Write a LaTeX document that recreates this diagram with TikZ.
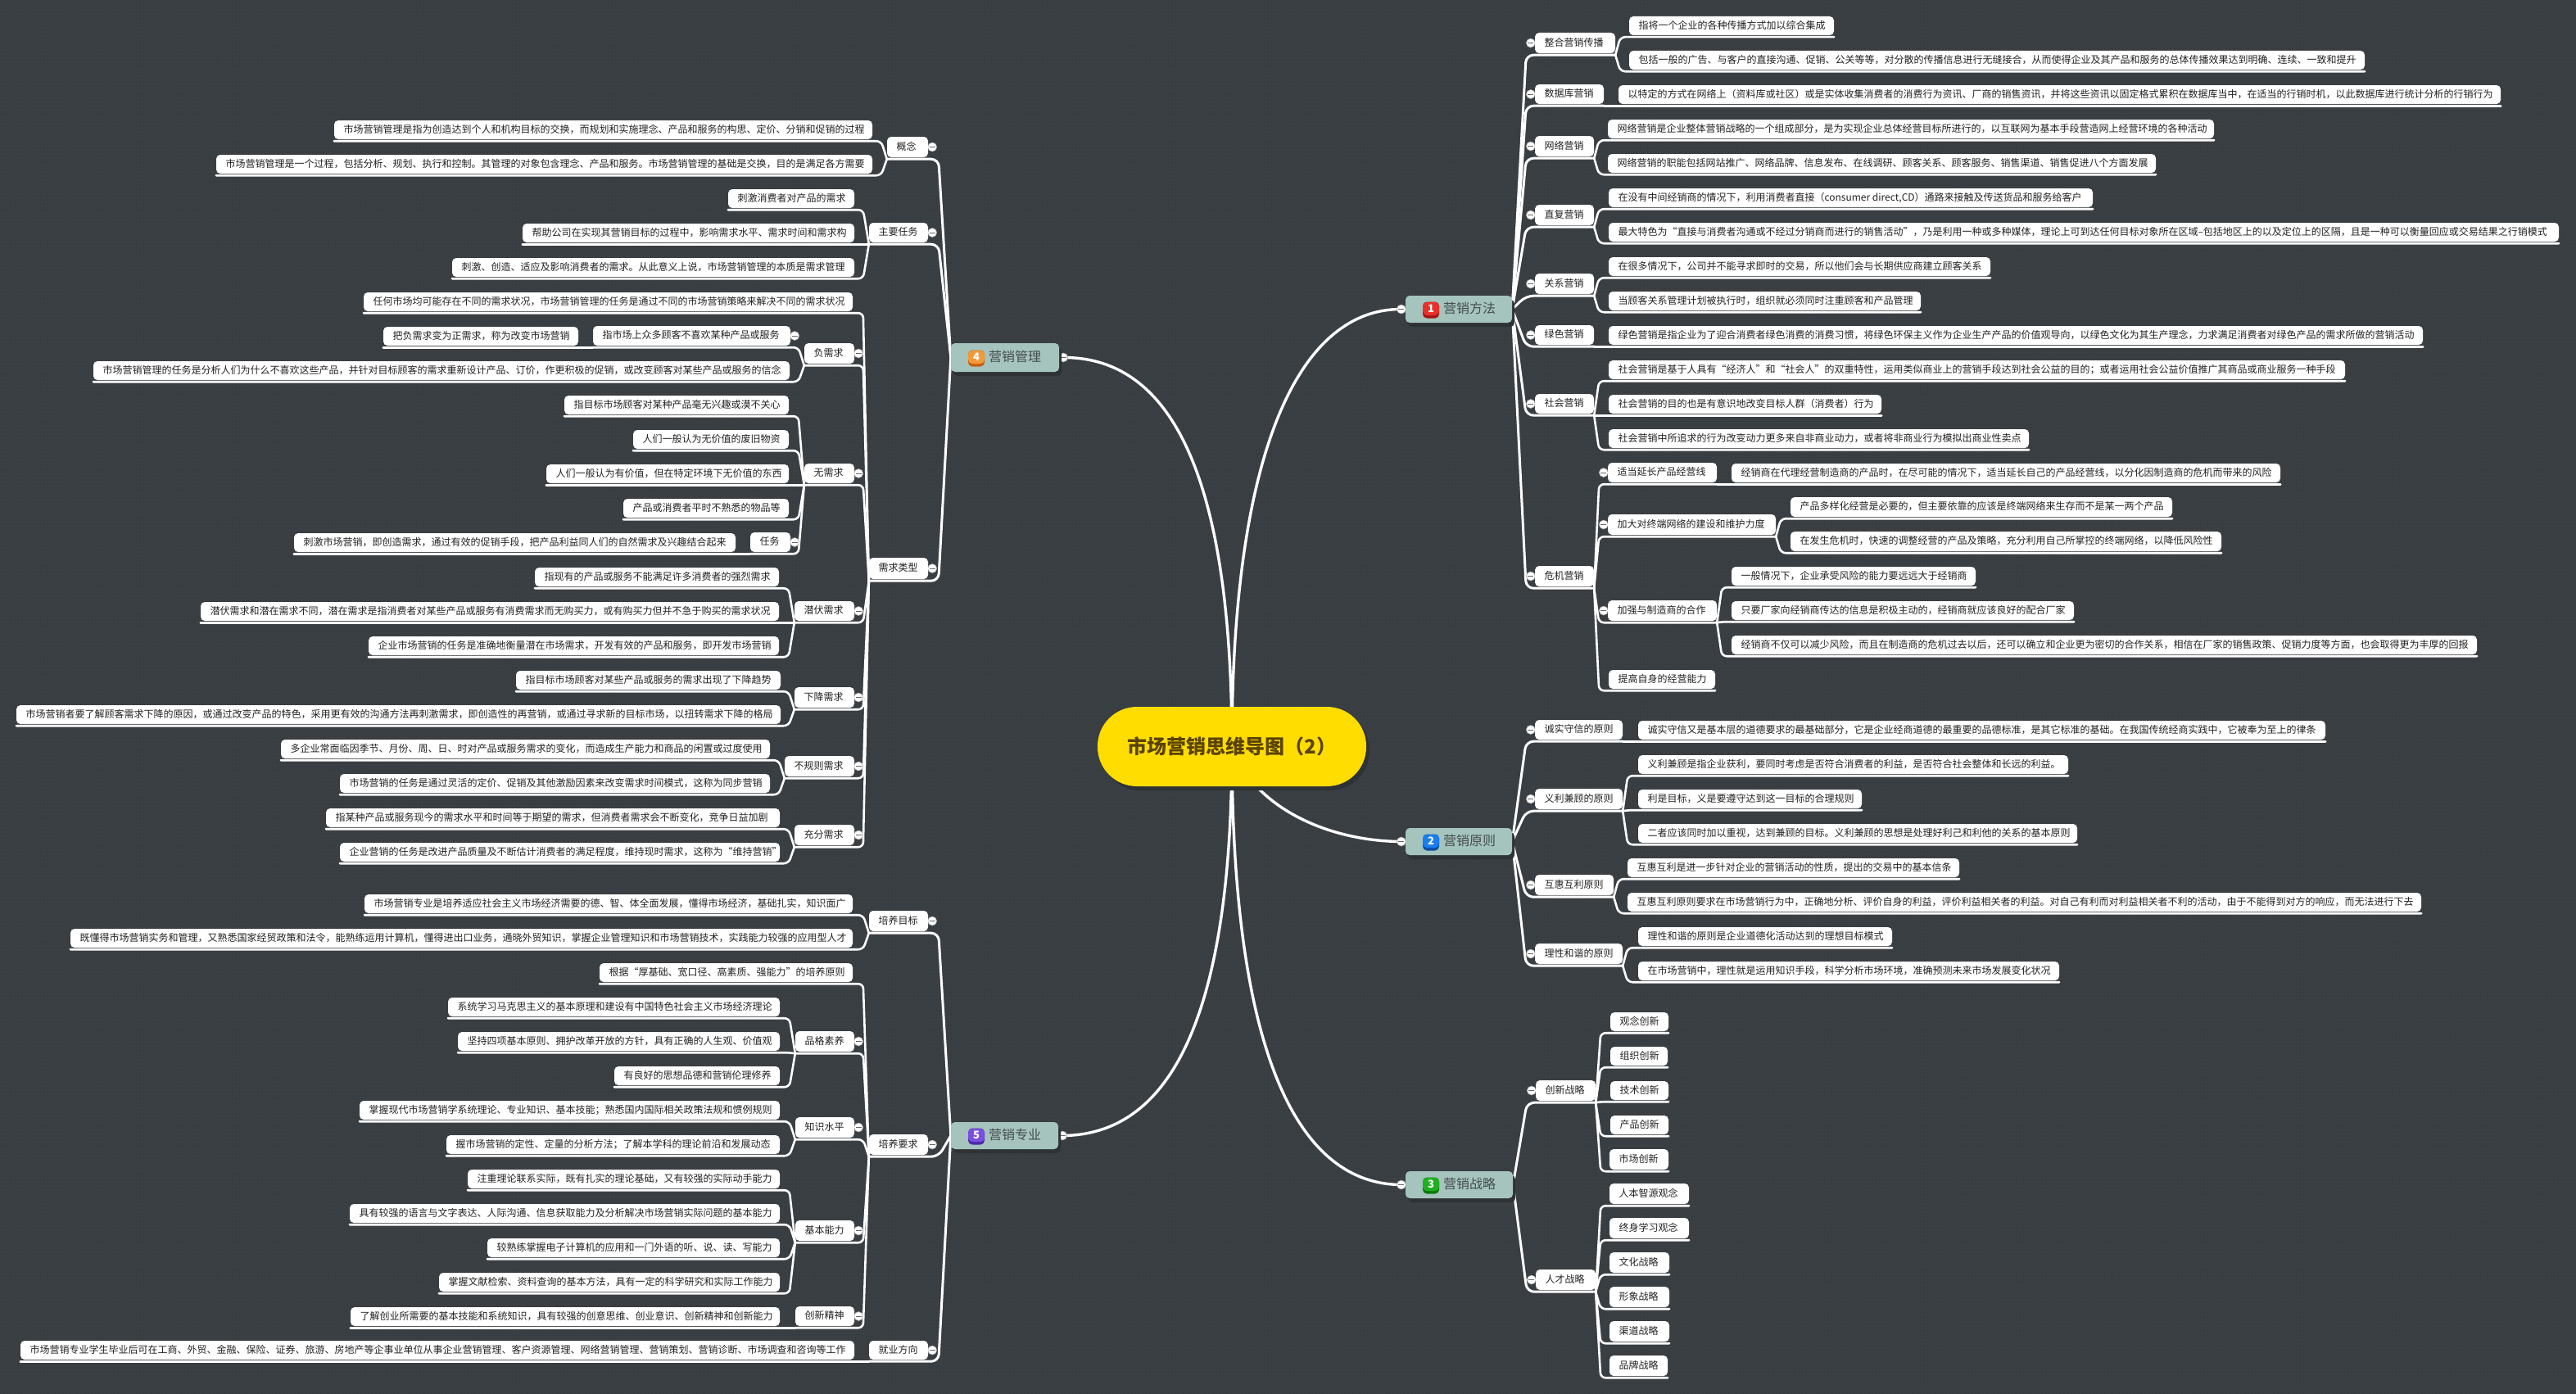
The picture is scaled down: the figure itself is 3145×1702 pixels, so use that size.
\documentclass[tikz,border=0pt]{standalone}
\usepackage{fontspec}
\setmainfont{Noto Sans CJK SC}
\usetikzlibrary{calc,shadows,patterns.meta}
\definecolor{bgc}{HTML}{3A3F44}
\definecolor{dotc}{HTML}{33383C}
\definecolor{topicfill}{HTML}{A5C4BD}
\definecolor{topictext}{HTML}{454C4F}
\definecolor{shadowc}{HTML}{2E3235}
\definecolor{boxtext}{HTML}{222222}
\definecolor{rootfill}{HTML}{FFDD00}
\definecolor{roottext}{HTML}{5A4300}
\definecolor{icoA}{HTML}{E8302A}\definecolor{icoAd}{HTML}{A51414}
\definecolor{icoB}{HTML}{1A7DF0}\definecolor{icoBd}{HTML}{0A4FA8}
\definecolor{icoC}{HTML}{1FB01F}\definecolor{icoCd}{HTML}{077A07}
\definecolor{icoD}{HTML}{F09A3A}\definecolor{icoDd}{HTML}{C85F10}
\definecolor{icoE}{HTML}{7A4FE0}\definecolor{icoEd}{HTML}{4A2AA8}
\pgfdeclarelayer{bg}\pgfdeclarelayer{mid}
\pgfsetlayers{bg,mid,main}
\tikzset{
  bx/.style={fill=white,rounded corners=5pt,inner sep=0pt,text=boxtext,font=\fontsize{12}{14}\selectfont},
  conn/.style={draw=white,line width=2.6pt,rounded corners=6pt,line cap=round},
  tconn/.style={draw=white,line width=3pt,rounded corners=9pt,line cap=round},
  rconn/.style={draw=white,line width=3.4pt,line cap=round},
  foldc/.style={circle,fill=white,draw=gray!70,line width=.6pt,minimum size=11pt,inner sep=0pt,
    path picture={\draw[black!60,line width=.9pt] ([xshift=-3.4pt]path picture bounding box.center)--([xshift=3.4pt]path picture bounding box.center);}},
  topicbox/.style={fill=topicfill,rounded corners=5pt,inner sep=0pt,text=topictext,font=\fontsize{16}{18}\selectfont,
    drop shadow={shadow xshift=3pt,shadow yshift=-5pt,fill=shadowc,opacity=1}},
  rootbox/.style={fill=rootfill,rounded corners=48pt,inner sep=0pt,text=roottext,font=\fontsize{24}{28}\selectfont\bfseries,
    drop shadow={shadow xshift=4pt,shadow yshift=-5pt,fill=shadowc,opacity=1}},
  iconbox/.style={rounded corners=5pt,inner sep=0pt,minimum size=20pt,text=white,font=\fontsize{13}{13}\selectfont\bfseries},
}
\newcommand\bx[6]{%
  \pgfmathsetlengthmacro\bxw{#3-#2}\pgfmathsetlengthmacro\bxh{#5-#4}%
  \node[bx,minimum width=\bxw,minimum height=\bxh] (#1) at ({(#2+#3)/2},{(#4+#5)/2})
    {\makebox[\bxw][l]{\hspace{11.5pt}\rule[-2.6pt]{0pt}{12pt}#6}};}
\newcommand\foldL[1]{\begin{pgfonlayer}{mid}\node[foldc] (#1f) at ([xshift=-5pt]#1.west) {};\end{pgfonlayer}}
\newcommand\foldR[1]{\begin{pgfonlayer}{mid}\node[foldc] (#1f) at ([xshift=5pt]#1.east) {};\end{pgfonlayer}}
% box with fold circle on the left (right wing) / right (left wing)
\newcommand\bxl[6]{\bx{#1}{#2}{#3}{#4}{#5}{#6}\foldL{#1}}
\newcommand\bxr[6]{\bx{#1}{#2}{#3}{#4}{#5}{#6}\foldR{#1}}
% #1 name #2 x1 #3 x2 #4 y1 #5 y2 #6 text #7 icon light #8 icon dark #9 number
\newcommand\tp[9]{%
  \pgfmathsetlengthmacro\bxw{#3-#2}\pgfmathsetlengthmacro\bxh{#5-#4}%
  \node[topicbox,minimum width=\bxw,minimum height=\bxh] (#1) at ({(#2+#3)/2},{(#4+#5)/2})
    {\makebox[\bxw][l]{\hspace{46pt}\rule[-3pt]{0pt}{15pt}#6}};
  \node[iconbox,fill=#8] (#1ib) at ({#2+31},{(#4+#5)/2+1}) {};
  \node[iconbox,minimum height=16pt,minimum width=20pt,fill=#7] (#1ic) at ({#2+31},{(#4+#5)/2-.5}) {#9};}
\newcommand\cR[2]{\begin{pgfonlayer}{bg}\draw[conn] ([yshift=-2pt]#1.south east) -- ($(#1.south east |- #2.south)+(6,2)$) -- ([yshift=-2pt]#2.south east);\end{pgfonlayer}}
\newcommand\cL[2]{\begin{pgfonlayer}{bg}\draw[conn] ([yshift=-2pt]#1.south west) -- ($(#1.south west |- #2.south)+(-7,2)$) -- ([yshift=-2pt]#2.south west);\end{pgfonlayer}}
\newcommand\cTR[2]{\begin{pgfonlayer}{bg}\draw[tconn] (#1.east) -- ($(#1.east |- #2.south)+(17,2)$) -- ([yshift=-2pt]#2.south east);\end{pgfonlayer}}
\newcommand\cTL[2]{\begin{pgfonlayer}{bg}\draw[tconn] (#1.west) -- ($(#1.west |- #2.south)+(-15,2)$) -- ([yshift=-2pt]#2.south west);\end{pgfonlayer}}
\begin{document}
\begin{tikzpicture}[x=1pt,y=-1pt]
\useasboundingbox (0,0) rectangle (3145,1702);
\begin{pgfonlayer}{bg}
\fill[bgc] (0,0) rectangle (3145,1702);
\fill[pattern={Dots[distance=4.5pt,radius=.55pt]},pattern color=dotc] (0,0) rectangle (3145,1702);
\end{pgfonlayer}

% root
\node[rootbox,minimum width=328pt,minimum height=97pt] (root) at (1504,911.5) {市场营销思维导图（2）};

% topics
\tp{ta}{1716}{1846}{361}{394}{营销方法}{icoA}{icoAd}{\itshape 1}
\tp{tb}{1716}{1846}{1011}{1044}{营销原则}{icoB}{icoBd}{2}
\tp{tc}{1716}{1847}{1430}{1463}{营销战略}{icoC}{icoCd}{3}
\tp{td}{1161}{1293}{419}{454}{营销管理}{icoD}{icoDd}{\itshape 4}
\tp{te}{1161}{1292}{1370}{1403}{营销专业}{icoE}{icoEd}{5}
\foldL{ta}\foldL{tb}\foldL{tc}\foldR{td}\foldR{te}

% ===== 营销方法
\bxl{a1}{1874}{1972}{40}{65}{整合营销传播}
\bx{a1a}{1989}{2239}{20}{43}{指将一个企业的各种传播方式加以综合集成}
\bx{a1b}{1989}{2887}{62}{85}{包括一般的广告、与客户的直接沟通、促销、公关等等，对分散的传播信息进行无缝接合，从而使得企业及其产品和服务的总体传播效果达到明确、连续、一致和提升}
\bxl{a2}{1874}{1958}{103}{127}{数据库营销}
\bx{a2a}{1976}{3053}{104}{127}{以特定的方式在网络上（资料库或社区）或是实体收集消费者的消费行为资讯、厂商的销售资讯，并将这些资讯以固定格式累积在数据库当中，在适当的行销时机，以此数据库进行统计分析的行销行为}
\bxl{a3}{1874}{1946}{166}{191}{网络营销}
\bx{a3a}{1963}{2703}{146}{169}{网络营销是企业整体营销战略的一个组成部分，是为实现企业总体经营目标所进行的，以互联网为基本手段营造网上经营环境的各种活动}
\bx{a3b}{1963}{2632}{188}{211}{网络营销的职能包括网站推广、网络品牌、信息发布、在线调研、顾客关系、顾客服务、销售渠道、销售促进八个方面发展}
\bxl{a4}{1874}{1946}{250}{275}{直复营销}
\bx{a4a}{1964}{2555}{230}{253}{在没有中间经销商的情况下，利用消费者直接（consumer direct,CD）通路来接触及传送货品和服务给客户}
\bx{a4b}{1964}{3124}{272}{295}{最大特色为“直接与消费者沟通或不经过分销商而进行的销售活动”，乃是利用一种或多种媒体，理论上可到达任何目标对象所在区域--包括地区上的以及定位上的区隔，且是一种可以衡量回应或交易结果之行销模式}
\bxl{a5}{1874}{1946}{334}{359}{关系营销}
\bx{a5a}{1964}{2430}{314}{337}{在很多情况下，公司并不能寻求即时的交易，所以他们会与长期供应商建立顾客关系}
\bx{a5b}{1964}{2345}{356}{379}{当顾客关系管理计划被执行时，组织就必须同时注重顾客和产品管理}
\bxl{a6}{1874}{1946}{397}{421}{绿色营销}
\bx{a6a}{1964}{2958}{398}{421}{绿色营销是指企业为了迎合消费者绿色消费的消费习惯，将绿色环保主义作为企业生产产品的价值观导向，以绿色文化为其生产理念，力求满足消费者对绿色产品的需求所做的营销活动}
\bxl{a7}{1874}{1946}{481}{505}{社会营销}
\bx{a7a}{1964}{2863}{440}{463}{社会营销是基于人具有“经济人”和“社会人”的双重特性，运用类似商业上的营销手段达到社会公益的目的；或者运用社会公益价值推广其商品或商业服务一种手段}
\bx{a7b}{1964}{2297}{482}{505}{社会营销的目的也是有意识地改变目标人群（消费者）行为}
\bx{a7c}{1964}{2477}{524}{547}{社会营销中所追求的行为改变动力更多来自非商业动力，或者将非商业行为模拟出商业性卖点}
\bxl{a8}{1874}{1946}{691}{716}{危机营销}
\bxl{a8a}{1963}{2096}{565}{589}{适当延长产品经营线}
\bx{a8a1}{2114}{2784}{566}{589}{经销商在代理经营制造商的产品时，在尽可能的情况下，适当延长自己的产品经营线，以分化因制造商的危机而带来的风险}
\bxl{a8b}{1963}{2168}{628}{653}{加大对终端网络的建设和维护力度}
\bx{a8b1}{2186}{2652}{607}{631}{产品多样化经营是必要的，但主要依靠的应该是终端网络来生存而不是某一两个产品}
\bx{a8b2}{2186}{2712}{649}{673}{在发生危机时，快速的调整经营的产品及策略，充分利用自己所掌控的终端网络，以降低风险性}
\bxl{a8c}{1963}{2096}{733}{758}{加强与制造商的合作}
\bx{a8c1}{2114}{2412}{692}{715}{一般情况下，企业承受风险的能力要远远大于经销商}
\bx{a8c2}{2114}{2532}{734}{757}{只要厂家向经销商传达的信息是积极主动的，经销商就应该良好的配合厂家}
\bx{a8c3}{2114}{3024}{776}{799}{经销商不仅可以减少风险，而且在制造商的危机过去以后，还可以确立和企业更为密切的合作关系，相信在厂家的销售政策、促销力度等方面，也会取得更为丰厚的回报}
\bx{a8d}{1964}{2094}{818}{841}{提高自身的经营能力}

% ===== 营销原则
\bxl{b1}{1874}{1981}{879}{903}{诚实守信的原则}
\bx{b1a}{2000}{2839}{880}{903}{诚实守信又是基本层的道德要求的最基础部分，它是企业经商道德的最重要的品德标准，是其它标准的基础。在我国传统经商实践中，它被奉为至上的律条}
\bxl{b2}{1874}{1981}{963}{988}{义利兼顾的原则}
\bx{b2a}{2000}{2525}{922}{945}{义利兼顾是指企业获利，要同时考虑是否符合消费者的利益，是否符合社会整体和长远的利益。}
\bx{b2b}{2000}{2273}{964}{987}{利是目标，义是要遵守达到这一目标的合理规则}
\bx{b2c}{2000}{2536}{1006}{1029}{二者应该同时加以重视，达到兼顾的目标。义利兼顾的思想是处理好利己和利他的关系的基本原则}
\bxl{b3}{1874}{1970}{1068}{1093}{互惠互利原则}
\bx{b3a}{1987}{2392}{1048}{1071}{互惠互利是进一步针对企业的营销活动的性质，提出的交易中的基本信条}
\bx{b3b}{1987}{2956}{1090}{1113}{互惠互利原则要求在市场营销行为中，正确地分析、评价自身的利益，评价利益相关者的利益。对自己有利而对利益相关者不利的活动，由于不能得到对方的响应，而无法进行下去}
\bxl{b4}{1874}{1981}{1152}{1177}{理性和谐的原则}
\bx{b4a}{2000}{2310}{1132}{1155}{理性和谐的原则是企业道德化活动达到的理想目标模式}
\bx{b4b}{2000}{2514}{1174}{1197}{在市场营销中，理性就是运用知识手段，科学分析市场环境，准确预测未来市场发展变化状况}

% ===== 营销战略
\bxl{c1}{1875}{1948}{1319}{1344}{创新战略}
\bx{c1a}{1966}{2037}{1236}{1259}{观念创新}
\bx{c1b}{1966}{2036}{1278}{1301}{组织创新}
\bx{c1c}{1966}{2037}{1320}{1343}{技术创新}
\bx{c1d}{1966}{2037}{1362}{1385}{产品创新}
\bx{c1e}{1965}{2037}{1403}{1428}{市场创新}
\bxl{c2}{1875}{1948}{1550}{1575}{人才战略}
\bx{c2a}{1965}{2062}{1445}{1470}{人本智源观念}
\bx{c2b}{1965}{2062}{1487}{1512}{终身学习观念}
\bx{c2c}{1965}{2038}{1529}{1554}{文化战略}
\bx{c2d}{1965}{2038}{1571}{1596}{形象战略}
\bx{c2e}{1965}{2038}{1613}{1638}{渠道战略}
\bx{c2f}{1965}{2036}{1655}{1680}{品牌战略}

% ===== 营销管理
\bxr{d1}{1083}{1133}{167}{192}{概念}
\bx{d1a}{408}{1065}{147}{170}{市场营销管理是指为创造达到个人和机构目标的交换，而规划和实施理念、产品和服务的构思、定价、分销和促销的过程}
\bx{d1b}{264}{1065}{189}{212}{市场营销管理是一个过程，包括分析、规划、执行和控制。其管理的对象包含理念、产品和服务。市场营销管理的基础是交换，目的是满足各方需要}
\bxr{d2}{1061}{1133}{272}{296}{主要任务}
\bx{d2a}{889}{1043}{231}{254}{刺激消费者对产品的需求}
\bx{d2b}{638}{1043}{273}{296}{帮助公司在实现其营销目标的过程中，影响需求水平、需求时间和需求构}
\bx{d2c}{552}{1043}{315}{338}{刺激、创造、适应及影响消费者的需求。从此意义上说，市场营销管理的本质是需求管理}
\bxr{d3}{1061}{1133}{681}{707}{需求类型}
\bx{d3a}{444}{1041}{357}{380}{任何市场均可能存在不同的需求状况，市场营销管理的任务是通过不同的市场营销策略来解决不同的需求状况}
\bxr{d3b}{982}{1043}{419}{444}{负需求}
\bxr{d3b1}{724}{965}{398}{422}{指市场上众多顾客不喜欢某种产品或服务}
\bx{d3b2}{468}{706}{399}{422}{把负需求变为正需求，称为改变市场营销}
\bx{d3b3}{114}{964}{441}{464}{市场营销管理的任务是分析人们为什么不喜欢这些产品，并针对目标顾客的需求重新设计产品、订价，作更积极的促销，或改变顾客对某些产品或服务的信念}
\bxr{d3c}{982}{1043}{566}{590}{无需求}
\bx{d3c1}{689}{963}{483}{506}{指目标市场顾客对某种产品毫无兴趣或漠不关心}
\bx{d3c2}{773}{963}{525}{548}{人们一般认为无价值的废旧物资}
\bx{d3c3}{667}{963}{567}{590}{人们一般认为有价值，但在特定环境下无价值的东西}
\bx{d3c4}{761}{963}{609}{632}{产品或消费者平时不熟悉的物品等}
\bxr{d3c5}{916}{965}{650}{674}{任务}
\bx{d3c6}{359}{898}{651}{674}{刺激市场营销，即创造需求，通过有效的促销手段，把产品利益同人们的自然需求及兴趣结合起来}
\bxr{d3d}{970}{1043}{734}{758}{潜伏需求}
\bx{d3d1}{653}{951}{693}{716}{指现有的产品或服务不能满足许多消费者的强烈需求}
\bx{d3d2}{245}{951}{735}{758}{潜伏需求和潜在需求不同，潜在需求是指消费者对某些产品或服务有消费需求而无购买力，或有购买力但并不急于购买的需求状况}
\bx{d3d3}{450}{951}{777}{800}{企业市场营销的任务是准确地衡量潜在市场需求，开发有效的产品和服务，即开发市场营销}
\bxr{d3e}{970}{1043}{839}{864}{下降需求}
\bx{d3e1}{630}{953}{819}{842}{指目标市场顾客对某些产品或服务的需求出现了下降趋势}
\bx{d3e2}{20}{953}{861}{884}{市场营销者要了解顾客需求下降的原因，或通过改变产品的特色，采用更有效的沟通方法再刺激需求，即创造性的再营销，或通过寻求新的目标市场，以扭转需求下降的格局}
\bxr{d3f}{958}{1043}{923}{948}{不规则需求}
\bx{d3f1}{343}{940}{903}{926}{多企业常面临因季节、月份、周、日、时对产品或服务需求的变化，而造成生产能力和商品的闲置或过度使用}
\bx{d3f2}{415}{940}{945}{968}{市场营销的任务是通过灵活的定价、促销及其他激励因素来改变需求时间模式，这称为同步营销}
\bxr{d3g}{970}{1043}{1007}{1032}{充分需求}
\bx{d3g1}{398}{952}{987}{1010}{指某种产品或服务现今的需求水平和时间等于期望的需求，但消费者需求会不断变化，竞争日益加剧}
\bx{d3g2}{415}{952}{1029}{1052}{企业营销的任务是改进产品质量及不断估计消费者的满足程度，维持现时需求，这称为“维持营销”}

% ===== 营销专业
\bxr{e1}{1061}{1133}{1112}{1137}{培养目标}
\bx{e1a}{445}{1041}{1092}{1115}{市场营销专业是培养适应社会主义市场经济需要的德、智、体全面发展，懂得市场经济，基础扎实，知识面广}
\bx{e1b}{86}{1041}{1134}{1157}{既懂得市场营销实务和管理，又熟悉国家经贸政策和法令，能熟练运用计算机，懂得进出口业务，通晓外贸知识，掌握企业管理知识和市场营销技术，实践能力较强的应用型人才}
\bxr{e2}{1061}{1133}{1385}{1410}{培养要求}
\bx{e2a}{732}{1041}{1176}{1199}{根据“厚基础、宽口径、高素质、强能力”的培养原则}
\bxr{e2b}{971}{1043}{1259}{1284}{品格素养}
\bx{e2b1}{547}{952}{1218}{1241}{系统学习马克思主义的基本原理和建设有中国特色社会主义市场经济理论}
\bx{e2b2}{559}{952}{1260}{1283}{坚持四项基本原则、拥护改革开放的方针，具有正确的人生观、价值观}
\bx{e2b3}{750}{952}{1302}{1325}{有良好的思想品德和营销伦理修养}
\bxr{e2c}{971}{1043}{1364}{1389}{知识水平}
\bx{e2c1}{439}{952}{1344}{1367}{掌握现代市场营销学系统理论、专业知识、基本技能；熟悉国内国际相关政策法规和惯例规则}
\bx{e2c2}{545}{952}{1386}{1409}{握市场营销的定性、定量的分析方法；了解本学科的理论前沿和发展动态}
\bxr{e2d}{971}{1043}{1490}{1515}{基本能力}
\bx{e2d1}{571}{952}{1428}{1451}{注重理论联系实际，既有扎实的理论基础，又有较强的实际动手能力}
\bx{e2d2}{427}{952}{1470}{1493}{具有较强的语言与文字表达、人际沟通、信息获取能力及分析解决市场营销实际问题的基本能力}
\bx{e2d3}{595}{952}{1512}{1535}{较熟练掌握电子计算机的应用和一门外语的听、说、读、写能力}
\bx{e2d4}{536}{952}{1554}{1577}{掌握文献检索、资料查询的基本方法，具有一定的科学研究和实际工作能力}
\bxr{e2e}{971}{1043}{1595}{1619}{创新精神}
\bx{e2e1}{428}{952}{1596}{1619}{了解创业所需要的基本技能和系统知识，具有较强的创意思维、创业意识、创新精神和创新能力}
\bxr{e3}{1061}{1133}{1637}{1660}{就业方向}
\bx{e3a}{25}{1043}{1637}{1660}{市场营销专业学生毕业后可在工商、外贸、金融、保险、证券、旅游、房地产等企事业单位从事企业营销管理、客户资源管理、网络营销管理、营销策划、营销诊断、市场调查和咨询等工作}

% ===== connectors
\begin{pgfonlayer}{bg}
\draw[rconn] (root.center) .. controls (1504,540) and (1590,377) .. (taf.center);
\draw[rconn] (root.center) .. controls (1530,985) and (1620,1027) .. (tbf.center);
\draw[rconn] (root.center) .. controls (1504,1300) and (1590,1446) .. (tcf.center);
\draw[rconn] (root.center) .. controls (1504,560) and (1420,436) .. (tdf.center);
\draw[rconn] (root.center) .. controls (1504,1260) and (1420,1386) .. (tef.center);
\end{pgfonlayer}
\foreach \c in {a1,a2,a3,a4,a5,a6,a7,a8}{\cTR{ta}{\c}}
\foreach \c in {b1,b2,b3,b4}{\cTR{tb}{\c}}
\foreach \c in {c1,c2}{\cTR{tc}{\c}}
\foreach \c in {d1,d2,d3}{\cTL{td}{\c}}
\foreach \c in {e1,e2,e3}{\cTL{te}{\c}}
\cR{a1}{a1a}\cR{a1}{a1b}\cR{a2}{a2a}\cR{a3}{a3a}\cR{a3}{a3b}\cR{a4}{a4a}\cR{a4}{a4b}
\cR{a5}{a5a}\cR{a5}{a5b}\cR{a6}{a6a}\cR{a7}{a7a}\cR{a7}{a7b}\cR{a7}{a7c}
\cR{a8}{a8a}\cR{a8}{a8b}\cR{a8}{a8c}\cR{a8}{a8d}
\cR{a8a}{a8a1}\cR{a8b}{a8b1}\cR{a8b}{a8b2}\cR{a8c}{a8c1}\cR{a8c}{a8c2}\cR{a8c}{a8c3}
\cR{b1}{b1a}\cR{b2}{b2a}\cR{b2}{b2b}\cR{b2}{b2c}\cR{b3}{b3a}\cR{b3}{b3b}\cR{b4}{b4a}\cR{b4}{b4b}
\foreach \c in {c1a,c1b,c1c,c1d,c1e}{\cR{c1}{\c}}
\foreach \c in {c2a,c2b,c2c,c2d,c2e,c2f}{\cR{c2}{\c}}
\cL{d1}{d1a}\cL{d1}{d1b}\cL{d2}{d2a}\cL{d2}{d2b}\cL{d2}{d2c}
\foreach \c in {d3a,d3b,d3c,d3d,d3e,d3f,d3g}{\cL{d3}{\c}}
\cL{d3b}{d3b1}\cL{d3b}{d3b3}\cL{d3b1}{d3b2}
\foreach \c in {d3c1,d3c2,d3c3,d3c4,d3c5}{\cL{d3c}{\c}}
\cL{d3c5}{d3c6}
\foreach \c in {d3d1,d3d2,d3d3}{\cL{d3d}{\c}}
\cL{d3e}{d3e1}\cL{d3e}{d3e2}\cL{d3f}{d3f1}\cL{d3f}{d3f2}\cL{d3g}{d3g1}\cL{d3g}{d3g2}
\cL{e1}{e1a}\cL{e1}{e1b}
\foreach \c in {e2a,e2b,e2c,e2d,e2e}{\cL{e2}{\c}}
\foreach \c in {e2b1,e2b2,e2b3}{\cL{e2b}{\c}}
\cL{e2c}{e2c1}\cL{e2c}{e2c2}
\foreach \c in {e2d1,e2d2,e2d3,e2d4}{\cL{e2d}{\c}}
\cL{e2e}{e2e1}\cL{e3}{e3a}
\end{tikzpicture}
\end{document}
